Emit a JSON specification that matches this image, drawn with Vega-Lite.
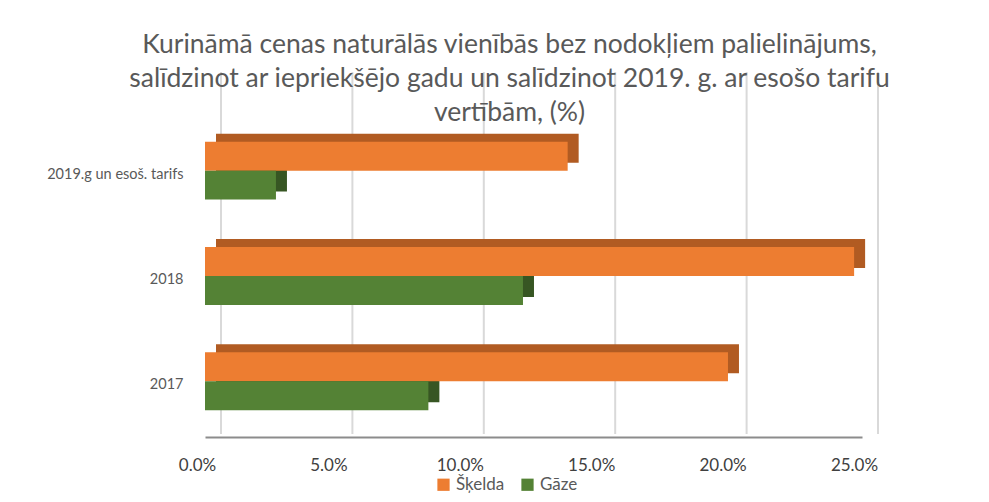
{
  "$schema": "https://vega.github.io/schema/vega-lite/v6.json",
  "autosize": "none",
  "width": 657,
  "height": 316,
  "padding": {"left": 205, "top": 118, "right": 127, "bottom": 68},
  "background": "white",
  "config": {
    "font": "Lato",
    "view": {"stroke": null}
  },
  "title": {
    "text": ["Kurināmā cenas naturālās vienībās bez nodokļiem palielinājums,", "salīdzinot ar iepriekšējo gadu un salīdzinot 2019. g. ar esošo tarifu", "vertībām, (%)"],
    "font": "Lato",
    "fontSize": 26.5,
    "fontWeight": "normal",
    "color": "#595959",
    "lineHeight": 34,
    "anchor": "middle",
    "dx": -24,
    "offset": -55
  },
  "datasets": {
    "bars": [
      {"cat": "2019.g un esoš. tarifs", "series": "Šķelda", "value": 0.138},
      {"cat": "2019.g un esoš. tarifs", "series": "Gāze", "value": 0.027},
      {"cat": "2018", "series": "Šķelda", "value": 0.247},
      {"cat": "2018", "series": "Gāze", "value": 0.121},
      {"cat": "2017", "series": "Šķelda", "value": 0.199},
      {"cat": "2017", "series": "Gāze", "value": 0.085}
    ],
    "grid": [
      {"tick": 0}, {"tick": 0.05}, {"tick": 0.1}, {"tick": 0.15}, {"tick": 0.2}, {"tick": 0.25}
    ]
  },
  "layer": [
    {
      "data": {"name": "grid"},
      "mark": {"type": "rule", "color": "#D9D9D9", "strokeWidth": 2, "xOffset": 16, "x2Offset": 16, "yOffset": -46, "y2Offset": -10},
      "encoding": {
        "x": {"field": "tick", "type": "quantitative", "scale": {"domain": [0, 0.25], "nice": false},
          "axis": {"title": null, "format": ".1%", "values": [0, 0.05, 0.1, 0.15, 0.2, 0.25], "grid": false, "ticks": false, "domainColor": "#8C8C8C", "domainWidth": 2, "offset": 3, "labelPadding": 20, "labelFontSize": 17, "labelColor": "#404040", "labelFont": "Lato", "labelOffset": -8, "labelFlush": false}}
      }
    },
    {
      "data": {"name": "bars"},
      "mark": {"type": "bar", "xOffset": 11, "x2Offset": 11},
      "encoding": {
        "y": {"field": "cat", "type": "nominal", "sort": null, "scale": {"paddingInner": 0.45, "paddingOuter": 0.225},
          "axis": {"title": null, "domain": false, "ticks": false, "labelPadding": 22, "labelFontSize": 14.5, "labelColor": "#595959", "labelFont": "Lato", "labelOffset": 4}},
        "yOffset": {"field": "series", "type": "nominal", "sort": ["Šķelda", "Gāze"], "scale": {"range": [-8, 49.9]}},
        "x": {"field": "value", "type": "quantitative", "scale": {"domain": [0, 0.25], "nice": false}},
        "x2": {"datum": 0},
        "fill": {"field": "series", "type": "nominal", "scale": {"domain": ["Šķelda", "Gāze"], "range": ["#B15B22", "#375623"]}, "legend": null}
      }
    },
    {
      "data": {"name": "bars"},
      "mark": {"type": "bar"},
      "encoding": {
        "y": {"field": "cat", "type": "nominal", "sort": null, "scale": {"paddingInner": 0.45, "paddingOuter": 0.225}},
        "yOffset": {"field": "series", "type": "nominal", "sort": ["Šķelda", "Gāze"], "scale": {"range": [0, 57.9]}},
        "x": {"field": "value", "type": "quantitative", "scale": {"domain": [0, 0.25], "nice": false}},
        "color": {"field": "series", "type": "nominal", "scale": {"domain": ["Šķelda", "Gāze"], "range": ["#ED7D31", "#548235"]},
          "legend": {"title": null, "orient": "none", "legendX": 230, "legendY": 358, "direction": "horizontal", "symbolType": "square", "symbolSize": 150, "symbolStrokeWidth": 0, "labelFontSize": 17, "labelColor": "#595959", "labelFont": "Lato", "columnPadding": 14, "labelOffset": 4}}
      }
    }
  ],
  "resolve": {"scale": {"fill": "independent", "yOffset": "independent"}}
}
